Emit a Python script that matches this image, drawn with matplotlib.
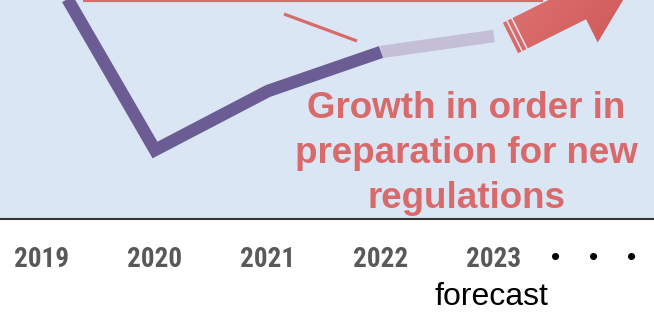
import numpy as np
import matplotlib.pyplot as plt
from matplotlib import font_manager
from matplotlib.patches import Polygon
from matplotlib.colors import LinearSegmentedColormap

# data (arbitrary index)
years = [2019, 2020, 2021, 2022]
values = [264, 69, 128, 167]
forecast_years = [2022, 2023]
forecast_values = [167, 183]
tick_labels = ["2019", "2020", "2021", "2022", "2023"]

bg = "#dae6f3"
purple = "#6b5c94"
light_purple = "#c5bed7"
red = "#d86a6b"

# pick a narrow bold font for the year labels if one is installed
installed = {f.name for f in font_manager.fontManager.ttflist}
narrow = None
for name in ["Liberation Sans Narrow", "DejaVu Sans Condensed", "Roboto Condensed",
             "Open Sans Condensed"]:
    if name in installed:
        narrow = name
        break

fig = plt.figure(figsize=(6.54, 3.12), dpi=100)
ax = fig.add_axes([0, 93 / 312, 1, 219 / 312])
ax.set_facecolor(bg)

# 1 year = 113 px, 2019 sits at 42 px from the left edge
x0 = 2019 - 42 / 113
x1 = 2019 + (654 - 42) / 113


def px(x, y):
    # pixel position (y down) -> data coordinates
    return 2019 + (x - 42) / 113, 219 - y


# main line
ax.plot(years, values, color=purple, lw=9, solid_joinstyle="miter",
        solid_capstyle="butt", zorder=3)
ax.plot(forecast_years, forecast_values, color=light_purple, lw=9,
        solid_capstyle="butt", zorder=2)

# red decorations
ax.plot([px(83, 0)[0], px(543, 0)[0]], [219, 219], color=red, lw=3,
        solid_capstyle="butt", zorder=2)
a, b = px(284, 14), px(357, 41)
ax.plot([a[0], b[0]], [a[1], b[1]], color=red, lw=2.3, solid_capstyle="butt")

# big arrow, built in pixel space along its own axis
origin = np.array([510.5, 38.0])
u = np.array([0.894, -0.447])
v = np.array([0.447, 0.894])
shape = [(0, -17), (76, -17), (76, -43), (143.6, 0), (76, 43),
         (76, 17), (0, 17)]
pts = [px(*(origin + s * u + t * v)) for s, t in shape]
arrow = Polygon(pts, closed=True, facecolor="none", edgecolor="none", zorder=4)
ax.add_patch(arrow)
cmap = LinearSegmentedColormap.from_list("arr", ["#e07d7b", "#d86666", "#c95252"])
gx, gy = np.meshgrid(np.linspace(0, 1, 200), np.linspace(0, 1, 200))
grad = gx * 0.6 + gy * 0.4
ext = px(495, -60)[0], px(660, 0)[0], px(0, 60)[1], px(0, -60)[1]
im = ax.imshow(grad, extent=(ext[0], ext[1], ext[2], ext[3]), cmap=cmap,
               aspect="auto", origin="upper", zorder=4)
im.set_clip_path(arrow)
for s in (4.5, 10):
    p, q = px(*(origin + s * u - 18 * v)), px(*(origin + s * u + 18 * v))
    ax.plot([p[0], q[0]], [p[1], q[1]], color=bg, lw=1.1, zorder=5)
ax.set_xlim(x0, x1)
ax.set_ylim(0, 219)

# annotation text
lines = ["Growth in order in", "preparation for new", "regulations"]
for i, line in enumerate(lines):
    tx, ty = px(466, 118 + 45 * i)
    ax.text(tx, ty, line, color=red, fontsize=26.5, fontweight="bold",
            family="Liberation Sans", ha="center", va="baseline", zorder=6)

# axis
for side in ["top", "left", "right"]:
    ax.spines[side].set_visible(False)
ax.spines["bottom"].set_color("#333333")
ax.spines["bottom"].set_linewidth(1.5)
ax.set_xticks([])
ax.set_yticks([])

label_font = narrow if narrow else "Liberation Sans"
label_size = 19.5 if narrow else 17
for yr, lab in zip(range(2019, 2024), tick_labels):
    ax.text(yr, px(0, 267)[1], lab, color="#595959", fontsize=label_size,
            fontweight="bold", family=label_font,
            ha="center", va="baseline", clip_on=False)
for dx in (556, 594, 632):
    tx, ty = px(dx, 258)
    ax.text(tx, ty, "\u2022", color="black", fontsize=19, family="Liberation Sans",
            ha="center", va="center", clip_on=False)
tx, ty = px(491, 305)
ax.text(tx, ty, "forecast", color="black", fontsize=23, family="Liberation Sans",
        ha="center", va="baseline", clip_on=False)

fig.savefig("out.png", dpi=100)
